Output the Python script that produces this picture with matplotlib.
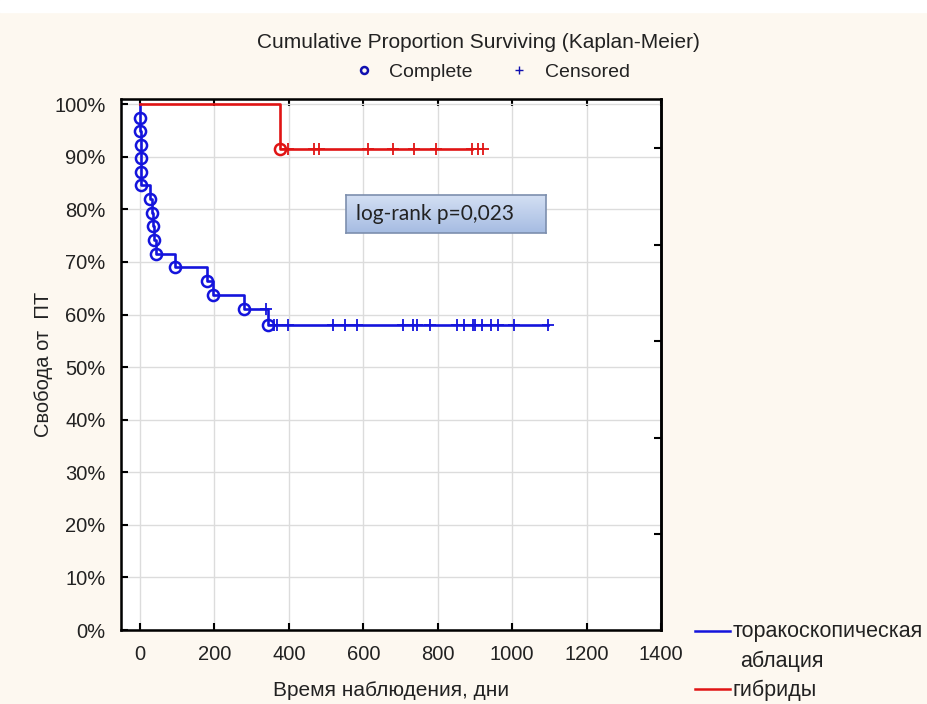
import numpy as np
import matplotlib.pyplot as plt
from matplotlib.lines import Line2D
from matplotlib.colors import LinearSegmentedColormap

plt.rcParams["font.family"] = ["Liberation Sans", "DejaVu Sans"]

# торакоскопическая аблация: events (day, cumulative proportion) and censored days
blue_event_days = [1, 1, 2, 2, 3, 3, 27, 31, 35, 39, 42, 95, 180, 195, 280, 345]
blue_event_surv = [0.974, 0.949, 0.923, 0.897, 0.872, 0.846, 0.820, 0.794, 0.768,
                   0.742, 0.716, 0.690, 0.664, 0.638, 0.611, 0.580]
blue_censor_days = [338, 361, 367, 398, 519, 550, 582, 706, 733, 745, 779, 851, 871,
                    895, 900, 918, 943, 962, 1005, 1097]

# гибриды
red_event_days = [377]
red_event_surv = [0.914]
red_censor_days = [398, 468, 482, 613, 679, 737, 795, 891]
red_censor_extra = [907, 922]  # marks drawn past the end of the line

x_ticks = [0, 200, 400, 600, 800, 1000, 1200, 1400]
y_ticks = [0.0, 0.1, 0.2, 0.3, 0.4, 0.5, 0.6, 0.7, 0.8, 0.9, 1.0]
right_ticks = [0.183, 0.366, 0.550, 0.733, 0.916]

BLUE = "#1414dc"
RED = "#e01414"
BG = "#fdf8f0"
TXT = "#222222"


def km_curve(ax, ev_days, ev_surv, cens_days, color):
    days = np.array([0] + ev_days + [max(cens_days)], dtype=float)
    surv = np.array([1.0] + ev_surv + [ev_surv[-1]])
    ax.step(days, surv, where="post", color=color, lw=1.9, zorder=3)
    ax.plot(ev_days, ev_surv, "o", ms=8, mfc="none", mec=color, mew=1.8, zorder=4)
    idx = np.searchsorted(days, cens_days, side="right") - 1
    ax.plot(cens_days, surv[idx], "+", ms=8, color=color, mew=1.3, zorder=4)
    return surv[-1]


fig = plt.figure(figsize=(9.28, 7.04), dpi=100, facecolor=BG)
fig.patches.append(plt.Rectangle((0, 1 - 12 / 704), 1, 12 / 704, transform=fig.transFigure,
                                 color="white", zorder=0))

ax = fig.add_axes([121 / 928, 1 - 630 / 704, 540 / 928, 531 / 704])
ax.set_facecolor("white")

km_curve(ax, blue_event_days, blue_event_surv, blue_censor_days, BLUE)
last_red = km_curve(ax, red_event_days, red_event_surv, red_censor_days, RED)
ax.plot(red_censor_extra, [last_red] * len(red_censor_extra), "+", ms=8, color=RED,
        mew=1.3, zorder=4)

ax.set_xlim(-51, 1400)
ax.set_ylim(0, 1.01)
ax.set_xticks(x_ticks)
ax.set_yticks(y_ticks)
ax.set_yticklabels([f"{int(round(v * 100))}%" for v in y_ticks])
ax.grid(True, color="#dcdcdc", lw=1)
ax.set_axisbelow(True)
ax.tick_params(direction="in", length=5, width=1.5, labelsize=14.5, top=True,
               colors="black", labelcolor=TXT)
ax.tick_params(axis="x", pad=11)
ax.tick_params(axis="y", pad=11)
for sp in ax.spines.values():
    sp.set_linewidth(1.8)

ax2 = ax.twinx()
ax2.set_ylim(0, 1.01)
ax2.set_yticks(right_ticks)
ax2.set_yticklabels([])
ax2.tick_params(direction="in", length=5, width=1.5)
ax2.spines["right"].set_linewidth(1.8)

ax.set_xlabel("Время наблюдения, дни", fontsize=15, color=TXT, labelpad=12)
ax.set_ylabel("Свобода от  ПТ", fontsize=14.5, color=TXT, labelpad=1)

fig.text(478 / 928, 1 - 42 / 704, "Cumulative Proportion Surviving (Kaplan-Meier)",
         ha="center", va="center", fontsize=15, color=TXT)
top_handles = [
    Line2D([], [], marker="o", ls="none", ms=5, mfc="none", mec="#1010b0", mew=1.8),
    Line2D([], [], marker="+", ls="none", ms=6, color="#1010b0", mew=1.0),
]
fig.legend(top_handles, ["Complete", "Censored"], loc="center",
           bbox_to_anchor=(487 / 928, 1 - 72 / 704), ncol=2, frameon=False,
           fontsize=14, handletextpad=0.3, columnspacing=1.4, labelcolor=TXT)

# log-rank box with a light gradient
bax = fig.add_axes([346 / 928, 1 - 233 / 704, 200 / 928, 38 / 704])
grad = np.linspace(0, 1, 64).reshape(-1, 1)
cmap = LinearSegmentedColormap.from_list("box", ["#d3dff3", "#a6bce2"])
bax.imshow(grad, aspect="auto", cmap=cmap, extent=(0, 1, 0, 1), origin="upper")
bax.set_xticks([])
bax.set_yticks([])
for sp in bax.spines.values():
    sp.set_color("#7d8fae")
    sp.set_linewidth(1.2)
bax.text(0.05, 0.5, "log-rank p=0,023", transform=bax.transAxes, ha="left", va="center",
         fontsize=15, family=["Lato", "DejaVu Sans"], color=TXT)

# group legend below the right edge
fig.add_artist(Line2D([695 / 928, 730 / 928], [1 - 631 / 704] * 2, color=BLUE, lw=1.8))
fig.text(733 / 928, 1 - 632 / 704, "торакоскопическая", ha="left", va="center",
         fontsize=15.5, color=TXT)
fig.text(740 / 928, 1 - 661 / 704, "аблация", ha="left", va="center",
         fontsize=15.5, color=TXT)
fig.add_artist(Line2D([695 / 928, 730 / 928], [1 - 689 / 704] * 2, color=RED, lw=1.8))
fig.text(733 / 928, 1 - 690 / 704, "гибриды", ha="left", va="center",
         fontsize=15.5, color=TXT)

fig.savefig("out.png", dpi=100, facecolor=BG)
